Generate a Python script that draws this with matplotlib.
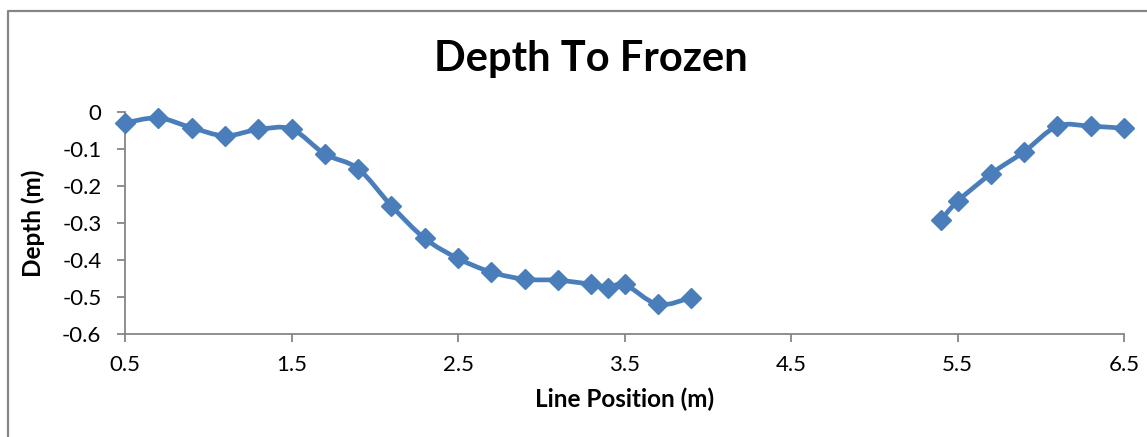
import numpy as np
import matplotlib
matplotlib.use("Agg")
import matplotlib.pyplot as plt
from matplotlib.path import Path
from matplotlib.patches import PathPatch
from matplotlib.lines import Line2D

# Survey readings along the line (m); NaN separates the two surveyed stretches
positions = [0.5, 0.7, 0.9, 1.1, 1.3, 1.5, 1.7, 1.9, 2.1, 2.3, 2.5, 2.7, 2.9,
             3.1, 3.3, 3.4, 3.5, 3.7, 3.9, np.nan,
             5.4, 5.5, 5.7, 5.9, 6.1, 6.3, 6.5]
depths = [-0.030, -0.017, -0.043, -0.065, -0.048, -0.047, -0.114, -0.154,
          -0.254, -0.342, -0.396, -0.433, -0.452, -0.455, -0.466, -0.477,
          -0.466, -0.520, -0.502, np.nan,
          -0.293, -0.242, -0.168, -0.108, -0.039, -0.039, -0.045]

x_ticks = [0.5, 1.5, 2.5, 3.5, 4.5, 5.5, 6.5]
y_ticks = [0, -0.1, -0.2, -0.3, -0.4, -0.5, -0.6]

LINE = "#4A7EBB"
AXIS = "#868686"
FONT = "Lato"

W, H = 1147, 437
fig = plt.figure(figsize=(W / 100, H / 100), dpi=100)
ax = fig.add_axes([125 / W, 1 - 334 / H, (1124 - 125) / W, (334 - 111.7) / H])


def smooth_path(xs, ys):
    """Bezier path through the points, with tangents from neighbouring points."""
    pts = np.column_stack([xs, ys])
    verts, codes = [tuple(pts[0])], [Path.MOVETO]
    n = len(pts)
    for i in range(n - 1):
        p0 = pts[i - 1] if i > 0 else pts[i]
        p1, p2 = pts[i], pts[i + 1]
        p3 = pts[i + 2] if i + 2 < n else pts[i + 1]
        c1 = p1 + (p2 - p0) / 6.0
        c2 = p2 - (p3 - p1) / 6.0
        verts += [tuple(c1), tuple(c2), tuple(p2)]
        codes += [Path.CURVE4] * 3
    return Path(verts, codes)


px = np.array(positions, dtype=float)
py = np.array(depths, dtype=float)
breaks = np.where(np.isnan(px))[0]
starts = np.concatenate([[0], breaks + 1])
ends = np.concatenate([breaks, [len(px)]])
for s, e in zip(starts, ends):
    patch = PathPatch(smooth_path(px[s:e], py[s:e]), facecolor="none",
                      edgecolor=LINE, lw=3.4, capstyle="round",
                      joinstyle="round", zorder=3)
    ax.add_patch(patch)

ax.plot(px, py, linestyle="none", marker="D", markersize=10.5,
        markerfacecolor=LINE, markeredgecolor=LINE, zorder=4, clip_on=False)

ax.set_xlim(0.5, 6.5)
ax.set_ylim(-0.6, 0)
ax.set_xticks(x_ticks)
ax.set_xticklabels([f"{v:g}" for v in x_ticks])
ax.set_yticks(y_ticks)
ax.set_yticklabels([f"{v:g}" for v in y_ticks])

for side in ("top", "right"):
    ax.spines[side].set_visible(False)
for side in ("left", "bottom"):
    ax.spines[side].set_color(AXIS)
    ax.spines[side].set_linewidth(1.3)

ax.tick_params(axis="both", direction="out", length=6, width=1.3,
               color=AXIS, labelsize=16, labelcolor="black")
ax.tick_params(axis="x", pad=9)
ax.tick_params(axis="y", pad=11)
for lbl in ax.get_xticklabels() + ax.get_yticklabels():
    lbl.set_fontfamily(FONT)

ax.set_xlabel("Line Position (m)", fontsize=17.5, fontweight="bold",
              fontfamily=FONT, labelpad=9)
ax.set_ylabel("Depth (m)", fontsize=17.5, fontweight="bold",
              fontfamily=FONT, labelpad=12)

fig.text(591 / W, 1 - 71 / H, "Depth To Frozen", ha="center",
         va="baseline", fontsize=30, fontweight="bold", fontfamily=FONT)

# Chart-area frame
fig.add_artist(Line2D([8.3 / W, 8.3 / W, 1.01], [-0.01, 1 - 10.7 / H, 1 - 10.7 / H],
                      color=AXIS, lw=1.6, transform=fig.transFigure))

fig.savefig("out.png", dpi=100, facecolor="white")
